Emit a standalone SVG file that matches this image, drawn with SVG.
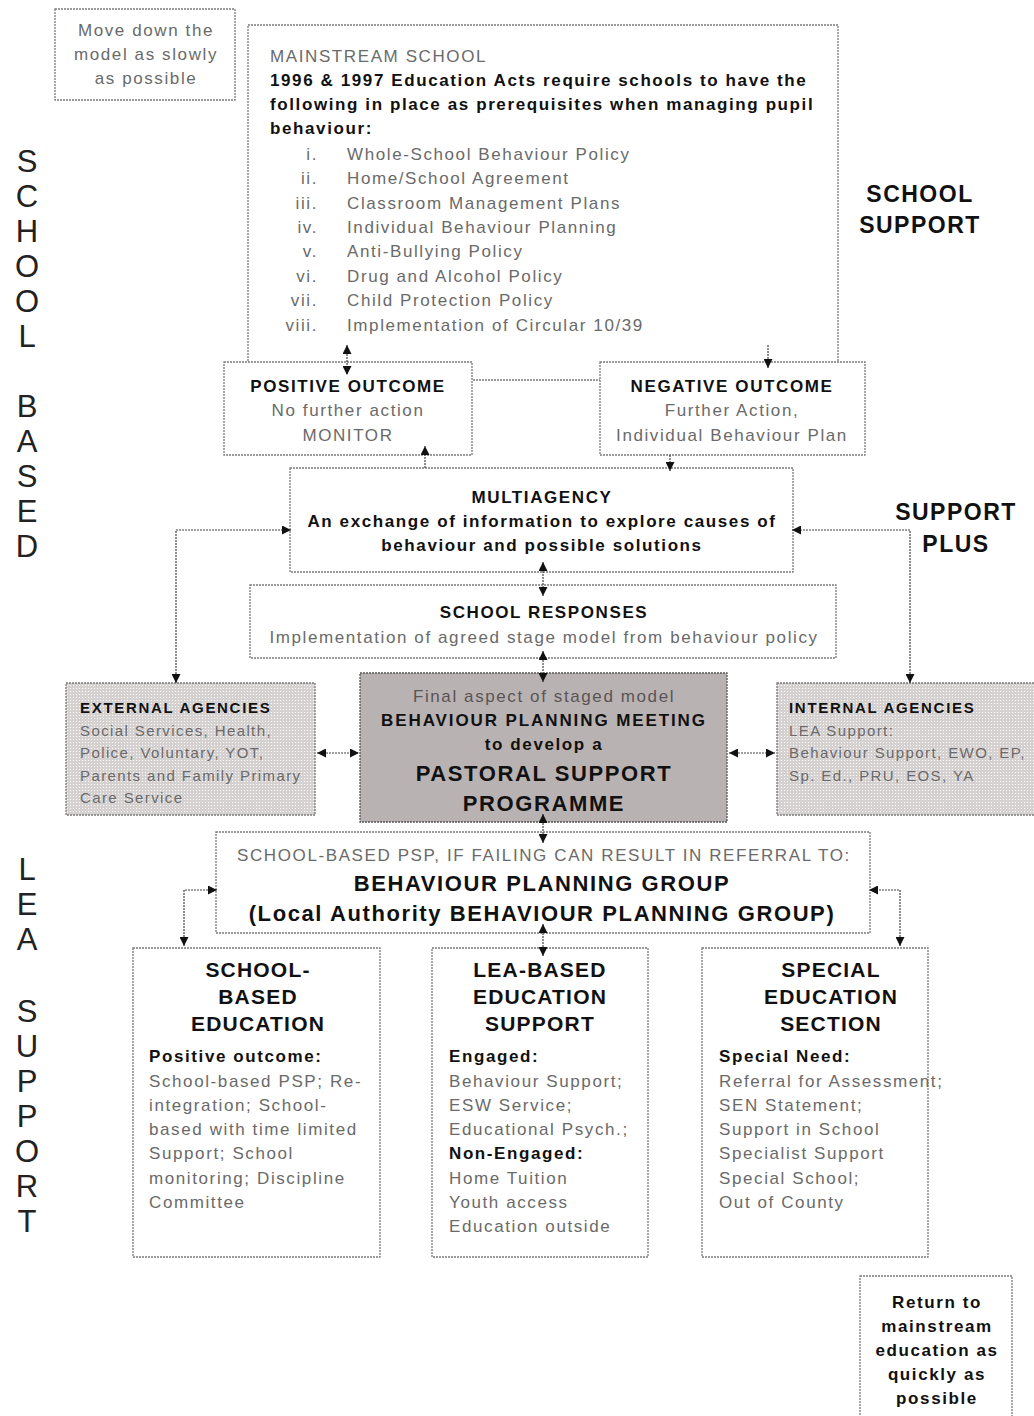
<svg xmlns="http://www.w3.org/2000/svg" width="1034" height="1416" viewBox="0 0 1034 1416">
<style>
text{font-family:"Liberation Sans",Arial,Helvetica,sans-serif}
.box{fill:#fff;stroke:#7a7a7a;stroke-width:1.3;stroke-dasharray:2 1}
.shade{fill:url(#dots);stroke:#7a7a7a;stroke-width:1.3;stroke-dasharray:2 1}
.dark{fill:#b9b2b2;stroke:#555;stroke-width:1.3;stroke-dasharray:2 1}
.g{fill:#6a6a6a;font-size:17px;letter-spacing:1.6px}
.gs{fill:#6a6a6a;font-size:15px;letter-spacing:1.4px}
.b{fill:#111;font-weight:bold;font-size:17px;letter-spacing:1.6px}
.bs{fill:#111;font-weight:bold;font-size:15px;letter-spacing:1.7px}
.bl{fill:#111;font-weight:bold;font-size:22px;letter-spacing:1.6px}
.bt{fill:#111;font-weight:bold;font-size:21px;letter-spacing:1.2px}
.side{fill:#111;font-weight:bold;font-size:23px;letter-spacing:1.5px}
.v{fill:#222;font-size:31px;text-anchor:middle}
.c{text-anchor:middle}
.conn{fill:none;stroke:#444;stroke-width:1.2;stroke-dasharray:2 1}
</style>
<defs>
<pattern id="dots" width="3" height="3" patternUnits="userSpaceOnUse">
<rect width="3" height="3" fill="#d6d1d1"/>
<rect x="1" y="1" width="1" height="1" fill="#ffffff"/>
</pattern>
<marker id="ah" viewBox="0 0 10 10" refX="10" refY="5" markerWidth="9" markerHeight="9" markerUnits="userSpaceOnUse" orient="auto-start-reverse">
<path d="M0,0 L10,5 L0,10 z" fill="#111"/>
</marker>
</defs>

<g id="label-school-based">
<text class="v" x="27" y="172">S</text>
<text class="v" x="27" y="207">C</text>
<text class="v" x="27" y="242">H</text>
<text class="v" x="27" y="277">O</text>
<text class="v" x="27" y="312">O</text>
<text class="v" x="27" y="347">L</text>
<text class="v" x="27" y="417">B</text>
<text class="v" x="27" y="452">A</text>
<text class="v" x="27" y="487">S</text>
<text class="v" x="27" y="522">E</text>
<text class="v" x="27" y="557">D</text>
</g>
<g id="label-lea-support">
<text class="v" x="27" y="880">L</text>
<text class="v" x="27" y="915">E</text>
<text class="v" x="27" y="950">A</text>
<text class="v" x="27" y="1022">S</text>
<text class="v" x="27" y="1057">U</text>
<text class="v" x="27" y="1092">P</text>
<text class="v" x="27" y="1127">P</text>
<text class="v" x="27" y="1162">O</text>
<text class="v" x="27" y="1197">R</text>
<text class="v" x="27" y="1232">T</text>
</g>
<g id="label-school-support">
<text class="side c" x="920" y="202">SCHOOL</text>
<text class="side c" x="920" y="233">SUPPORT</text>
</g>
<g id="label-support-plus">
<text class="side c" x="956" y="520">SUPPORT</text>
<text class="side c" x="956" y="552">PLUS</text>
</g>

<g id="note-move-down">
<rect class="box" x="55" y="9" width="180" height="91"/>
<text class="g c" x="146" y="36">Move down the</text>
<text class="g c" x="146" y="60">model as slowly</text>
<text class="g c" x="146" y="84">as possible</text>
</g>

<g id="mainstream-school">
<rect class="box" x="248" y="25" width="590" height="355"/>
<text class="g" x="270" y="62">MAINSTREAM SCHOOL</text>
<text class="b" x="270" y="86">1996 &amp; 1997 Education Acts require schools to have the</text>
<text class="b" x="270" y="110">following in place as prerequisites when managing pupil</text>
<text class="b" x="270" y="134">behaviour:</text>
<g class="g" text-anchor="end">
<text x="318" y="160">i.</text>
<text x="318" y="184">ii.</text>
<text x="318" y="209">iii.</text>
<text x="318" y="233">iv.</text>
<text x="318" y="257">v.</text>
<text x="318" y="282">vi.</text>
<text x="318" y="306">vii.</text>
<text x="318" y="331">viii.</text>
</g>
<g class="g">
<text x="347" y="160">Whole-School Behaviour Policy</text>
<text x="347" y="184">Home/School Agreement</text>
<text x="347" y="209">Classroom Management Plans</text>
<text x="347" y="233">Individual Behaviour Planning</text>
<text x="347" y="257">Anti-Bullying Policy</text>
<text x="347" y="282">Drug and Alcohol Policy</text>
<text x="347" y="306">Child Protection Policy</text>
<text x="347" y="331">Implementation of Circular 10/39</text>
</g>
</g>

<g id="positive-outcome">
<rect class="box" x="224" y="362" width="248" height="93"/>
<text class="b c" x="348" y="392">POSITIVE OUTCOME</text>
<text class="g c" x="348" y="416">No further action</text>
<text class="g c" x="348" y="441">MONITOR</text>
</g>

<g id="negative-outcome">
<rect class="box" x="600" y="362" width="265" height="93"/>
<text class="b c" x="732" y="392">NEGATIVE OUTCOME</text>
<text class="g c" x="732" y="416">Further Action,</text>
<text class="g c" x="732" y="441">Individual Behaviour Plan</text>
</g>

<g id="multiagency">
<rect class="box" x="290" y="468" width="503" height="104"/>
<text class="b c" x="542" y="503">MULTIAGENCY</text>
<text class="b c" x="542" y="527">An exchange of information to explore causes of</text>
<text class="b c" x="542" y="551">behaviour and possible solutions</text>
</g>

<g id="school-responses">
<rect class="box" x="250" y="585" width="586" height="73"/>
<text class="b c" x="544" y="618">SCHOOL RESPONSES</text>
<text class="g c" x="544" y="643">Implementation of agreed stage model from behaviour policy</text>
</g>

<g id="external-agencies">
<rect class="shade" x="66" y="683" width="249" height="132"/>
<text class="bs" x="80" y="713">EXTERNAL AGENCIES</text>
<text class="gs" x="80" y="736">Social Services, Health,</text>
<text class="gs" x="80" y="758">Police, Voluntary, YOT,</text>
<text class="gs" x="80" y="781">Parents and Family Primary</text>
<text class="gs" x="80" y="803">Care Service</text>
</g>

<g id="internal-agencies">
<rect class="shade" x="777" y="683" width="262" height="132"/>
<text class="bs" x="789" y="713">INTERNAL AGENCIES</text>
<text class="gs" x="789" y="736">LEA Support:</text>
<text class="gs" x="789" y="758">Behaviour Support, EWO, EP,</text>
<text class="gs" x="789" y="781">Sp. Ed., PRU, EOS, YA</text>
</g>

<g id="pastoral-support-programme">
<rect class="dark" x="360" y="673" width="367" height="149"/>
<text class="g c" x="544" y="702" style="fill:#5a5555">Final aspect of staged model</text>
<text class="b c" x="544" y="726" style="letter-spacing:1.9px">BEHAVIOUR PLANNING MEETING</text>
<text class="b c" x="544" y="750">to develop a</text>
<text class="bl c" x="544" y="781">PASTORAL SUPPORT</text>
<text class="bl c" x="544" y="811">PROGRAMME</text>
</g>

<g id="behaviour-planning-group">
<rect class="box" x="216" y="832" width="654" height="101"/>
<text class="g c" x="544" y="861">SCHOOL-BASED PSP, IF FAILING CAN RESULT IN REFERRAL TO:</text>
<text class="bl c" x="542" y="891">BEHAVIOUR PLANNING GROUP</text>
<text class="bl c" x="542" y="921">(Local Authority BEHAVIOUR PLANNING GROUP)</text>
</g>

<g id="school-based-education">
<rect class="box" x="133" y="948" width="247" height="309"/>
<text class="bt c" x="258" y="977">SCHOOL-</text>
<text class="bt c" x="258" y="1004">BASED</text>
<text class="bt c" x="258" y="1031">EDUCATION</text>
<text class="b" x="149" y="1062">Positive outcome:</text>
<text class="g" x="149" y="1087">School-based PSP; Re-</text>
<text class="g" x="149" y="1111">integration; School-</text>
<text class="g" x="149" y="1135">based with time limited</text>
<text class="g" x="149" y="1159">Support; School</text>
<text class="g" x="149" y="1184">monitoring; Discipline</text>
<text class="g" x="149" y="1208">Committee</text>
</g>

<g id="lea-based-education-support">
<rect class="box" x="432" y="948" width="216" height="309"/>
<text class="bt c" x="540" y="977">LEA-BASED</text>
<text class="bt c" x="540" y="1004">EDUCATION</text>
<text class="bt c" x="540" y="1031">SUPPORT</text>
<text class="b" x="449" y="1062">Engaged:</text>
<text class="g" x="449" y="1087">Behaviour Support;</text>
<text class="g" x="449" y="1111">ESW Service;</text>
<text class="g" x="449" y="1135">Educational Psych.;</text>
<text class="b" x="449" y="1159">Non-Engaged:</text>
<text class="g" x="449" y="1184">Home Tuition</text>
<text class="g" x="449" y="1208">Youth access</text>
<text class="g" x="449" y="1232">Education outside</text>
</g>

<g id="special-education-section">
<rect class="box" x="702" y="948" width="226" height="309"/>
<text class="bt c" x="831" y="977">SPECIAL</text>
<text class="bt c" x="831" y="1004">EDUCATION</text>
<text class="bt c" x="831" y="1031">SECTION</text>
<text class="b" x="719" y="1062">Special Need:</text>
<text class="g" x="719" y="1087">Referral for Assessment;</text>
<text class="g" x="719" y="1111">SEN Statement;</text>
<text class="g" x="719" y="1135">Support in School</text>
<text class="g" x="719" y="1159">Specialist Support</text>
<text class="g" x="719" y="1184">Special School;</text>
<text class="g" x="719" y="1208">Out of County</text>
</g>

<g id="note-return">
<rect class="box" x="860" y="1276" width="152" height="150"/>
<text class="b c" x="937" y="1308">Return to</text>
<text class="b c" x="937" y="1332">mainstream</text>
<text class="b c" x="937" y="1356">education as</text>
<text class="b c" x="937" y="1380">quickly as</text>
<text class="b c" x="937" y="1404">possible</text>
</g>

<g id="connectors" class="conn">
<path d="M347,345 V375" marker-start="url(#ah)" marker-end="url(#ah)"/>
<path d="M768,345 V368" marker-end="url(#ah)"/>
<path d="M425,468 V446" marker-end="url(#ah)"/>
<path d="M670,455 V471" marker-end="url(#ah)"/>
<path d="M543,562 V596" marker-start="url(#ah)" marker-end="url(#ah)"/>
<path d="M543,651 V682" marker-start="url(#ah)" marker-end="url(#ah)"/>
<path d="M176,683 V530 H291" marker-start="url(#ah)" marker-end="url(#ah)"/>
<path d="M910,683 V530 H792" marker-start="url(#ah)" marker-end="url(#ah)"/>
<path d="M317,753 H359" marker-start="url(#ah)" marker-end="url(#ah)"/>
<path d="M729,753 H775" marker-start="url(#ah)" marker-end="url(#ah)"/>
<path d="M543,814 V843" marker-start="url(#ah)" marker-end="url(#ah)"/>
<path d="M184,946 V890 H217" marker-start="url(#ah)" marker-end="url(#ah)"/>
<path d="M900,946 V890 H869" marker-start="url(#ah)" marker-end="url(#ah)"/>
<path d="M543,924 V956" marker-start="url(#ah)" marker-end="url(#ah)"/>
</g>
</svg>
